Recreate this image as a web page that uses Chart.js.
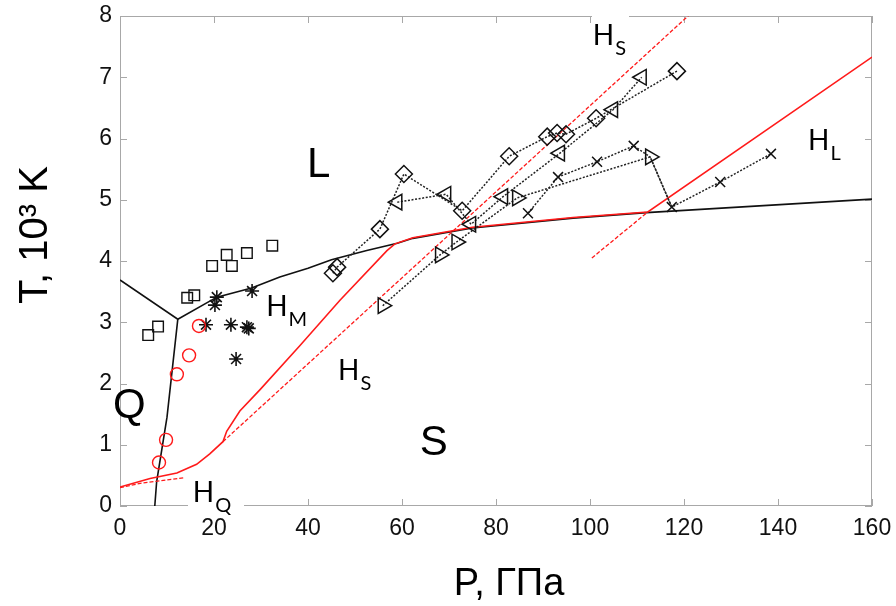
<!DOCTYPE html>
<html>
<head>
<meta charset="utf-8">
<script src="https://cdn.jsdelivr.net/npm/chart.js@4.4.1/dist/chart.umd.min.js"></script>
<style>
  html, body { margin: 0; padding: 0; background: #fff; }
</style>
</head>
<body>
<canvas id="chart" width="896" height="606"></canvas>
<script>
// P in GPa, T in 10^3 K
const xTicks = [0, 20, 40, 60, 80, 100, 120, 140, 160];
const yTicks = [0, 1, 2, 3, 4, 5, 6, 7, 8];

// phase boundaries (black)
const meltP = [0, 12.3, 20.6, 28, 34, 40, 45, 52.5, 59, 62.3, 75, 96.4, 112, 160];
const meltT = [3.69, 3.05, 3.41, 3.56, 3.74, 3.88, 4.02, 4.17, 4.29, 4.37, 4.54, 4.70, 4.79, 5.01];
const qsP = [7.4, 7.8, 10.0, 12.3];
const qsT = [0, 0.4, 1.45, 3.05];

// hugoniots (red)
const hugP = [0, 6.4, 12.1, 16.3, 19.1, 21.9, 22.7, 25.5, 29.8, 38.3, 46.8, 56.8, 58.5, 62.3, 75, 96.4, 112.3, 160];
const hugT = [0.31, 0.45, 0.54, 0.68, 0.85, 1.05, 1.22, 1.55, 1.9, 2.62, 3.36, 4.17, 4.28, 4.38, 4.55, 4.71, 4.80, 7.33];
const hqP = [0, 4.3, 13.5];
const hqT = [0.30, 0.37, 0.46];
const hsP = [21.9, 121];
const hsT = [1.05, 8.01];
const hlP = [100.4, 112.3];
const hlT = [4.05, 4.80];

// experimental points
const sqP = [6.0, 8.1, 14.3, 15.8, 19.6, 22.7, 23.8, 27.0, 32.4];
const sqT = [2.79, 2.93, 3.40, 3.44, 3.92, 4.10, 3.92, 4.13, 4.25];
const circP = [8.3, 9.8, 12.1, 14.7, 16.8];
const circT = [0.71, 1.08, 2.15, 2.46, 2.94];
const starP = [18.3, 20.2, 20.6, 23.6, 24.7, 27.0, 27.4, 28.1];
const starT = [2.96, 3.28, 3.41, 2.96, 2.40, 2.92, 2.90, 3.51];

// simulation chains (dotted)
const diaP = [45.3, 46.2, 55.3, 60.4, 72.8, 82.8, 90.9, 93.0, 94.9, 101.3, 118.5];
const diaT = [3.80, 3.90, 4.52, 5.42, 4.82, 5.71, 6.03, 6.09, 6.07, 6.33, 7.10];
const triLP = [59.0, 69.4, 74.7, 81.5, 93.6, 104.9, 111.0];
const triLT = [4.96, 5.09, 4.60, 5.05, 5.76, 6.47, 7.00];
const triRP = [55.9, 68.1, 71.6, 84.5, 112.8, 117.4];
const triRT = [3.27, 4.10, 4.31, 5.03, 5.70, 4.88];
const crossP = [86.8, 93.2, 101.5, 109.3, 112.8, 117.4, 127.7, 138.5];
const crossT = [4.78, 5.37, 5.62, 5.88, 5.70, 4.88, 5.29, 5.75];

const pts = (xs, ys) => xs.map((v, i) => ({ x: v, y: ys[i] }));

const RED = '#ff1a1a';
const DOT = '#222';

function marker(data, style, r, color, extra) {
  return Object.assign({
    data: data, showLine: false, pointStyle: style, pointRadius: r,
    pointBorderColor: color, pointBackgroundColor: 'rgba(0,0,0,0)', pointBorderWidth: 1.4
  }, extra || {});
}
function chain(data, style, r, extra) {
  return Object.assign({
    data: data, showLine: true, borderColor: DOT, borderWidth: 1.5, borderDash: [2, 1.6],
    pointStyle: style, pointRadius: r, pointBorderColor: '#111',
    pointBackgroundColor: 'rgba(0,0,0,0)', pointBorderWidth: 1.5
  }, extra || {});
}
function curve(data, color, dash, w) {
  return { data: data, showLine: true, borderColor: color, borderWidth: w || 1.6,
           borderDash: dash || [], pointRadius: 0, tension: 0 };
}

const frame = {
  id: 'frame',
  beforeDatasetsDraw(chart) {
    const { ctx, chartArea: a, scales: { x, y } } = chart;
    ctx.save();
    ctx.strokeStyle = '#a8a8a8';
    ctx.lineWidth = 1;
    ctx.strokeRect(a.left + 0.5, a.top + 0.5, a.right - a.left - 1, a.bottom - a.top - 1);
    ctx.beginPath();
    xTicks.forEach(v => {
      const px = Math.round(x.getPixelForValue(v)) + 0.5;
      ctx.moveTo(px, a.bottom); ctx.lineTo(px, a.bottom - 7);
      ctx.moveTo(px, a.top); ctx.lineTo(px, a.top + 7);
    });
    yTicks.forEach(v => {
      const py = Math.round(y.getPixelForValue(v)) + 0.5;
      ctx.moveTo(a.left, py); ctx.lineTo(a.left + 7, py);
      ctx.moveTo(a.right, py); ctx.lineTo(a.right - 7, py);
    });
    ctx.stroke();
    ctx.restore();
  },
  afterDraw(chart) {
    const { ctx, scales: { x, y } } = chart;
    ctx.save();
    // white patches behind two labels
    ctx.fillStyle = '#fff';
    ctx.fillRect(188, 470, 56, 42);
    ctx.fillRect(592, 4, 37, 48);

    ctx.fillStyle = '#000';
    ctx.textBaseline = 'alphabetic';
    ctx.textAlign = 'left';
    ctx.font = '42px "Liberation Sans", Arial, sans-serif';
    [['L', 39.8, 5.37], ['Q', -1.5, 1.44], ['S', 63.8, 0.83]].forEach(([t, p, T]) => {
      ctx.fillText(t, x.getPixelForValue(p), y.getPixelForValue(T));
    });

    const hLabels = [['M', 31.1, 3.10], ['S', 46.4, 2.06], ['Q', 15.5, 0.07], ['S', 100.6, 7.53], ['L', 146.4, 5.81]];
    hLabels.forEach(([s, p, T]) => {
      const px = x.getPixelForValue(p), py = y.getPixelForValue(T);
      ctx.font = '28px Lato, "Open Sans", sans-serif';
      ctx.fillText('H', px, py);
      const w = ctx.measureText('H').width;
      ctx.font = '20px Lato, "Open Sans", sans-serif';
      ctx.fillText(s, px + w + 1, py + 10);
    });

    // axis titles
    ctx.font = '38px "Liberation Sans", Arial, sans-serif';
    ctx.textAlign = 'center';
    ctx.fillText('P, ГПа', 509, 595);
    ctx.translate(47, 235);
    ctx.rotate(-Math.PI / 2);
    ctx.font = '40px "Liberation Sans", Arial, sans-serif';
    ctx.fillText('T, 10³ K', 0, 0);
    ctx.restore();
  }
};

const tickFont = { family: '"Liberation Sans", Arial, sans-serif', size: 23 };

new Chart(document.getElementById('chart'), {
  type: 'scatter',
  data: {
    datasets: [
      marker(pts(sqP, sqT), 'rect', 7.5, '#111'),
      marker(pts(circP, circT), 'circle', 6.5, RED),
      marker(pts(starP, starT), 'star', 7, '#111', { pointBorderWidth: 1.6 }),
      chain(pts(diaP, diaT), 'rectRot', 8.5),
      chain(pts(triLP, triLT), 'triangle', 9, { pointRotation: -90 }),
      chain(pts(triRP, triRT), 'triangle', 9, { pointRotation: 90, pointRadius: [9, 9, 9, 9, 9, 0] }),
      chain(pts(crossP, crossT), 'crossRot', 7, { pointRadius: [7, 7, 7, 7, 0, 7, 7, 7] }),
      curve(pts(hugP, hugT), RED),
      curve(pts(hqP, hqT), RED, [4, 2], 1.3),
      curve(pts(hsP, hsT), RED, [4, 2], 1.3),
      curve(pts(hlP, hlT), RED, [4, 2], 1.3),
      curve(pts(meltP, meltT), '#111'),
      curve(pts(qsP, qsT), '#111')
    ]
  },
  options: {
    responsive: false,
    animation: false,
    devicePixelRatio: 1,
    layout: { padding: { left: 0, right: 24, top: 16, bottom: 0 } },
    plugins: { legend: { display: false }, tooltip: { enabled: false } },
    scales: {
      x: {
        type: 'linear', min: 0, max: 160,
        grid: { display: false, drawTicks: false }, border: { display: false },
        ticks: { font: tickFont, color: '#111', padding: 9, maxRotation: 0 },
        afterBuildTicks: s => { s.ticks = xTicks.map(v => ({ value: v })); },
        afterFit: s => { s.height = 100; s.paddingLeft = 0; s.paddingRight = 0; }
      },
      y: {
        type: 'linear', min: 0, max: 8,
        grid: { display: false, drawTicks: false }, border: { display: false },
        ticks: { font: tickFont, color: '#111', padding: 8 },
        afterBuildTicks: s => { s.ticks = yTicks.map(v => ({ value: v })); },
        afterFit: s => { s.width = 120; s.paddingTop = 0; s.paddingBottom = 0; }
      }
    }
  },
  plugins: [frame]
});
</script>
</body>
</html>
